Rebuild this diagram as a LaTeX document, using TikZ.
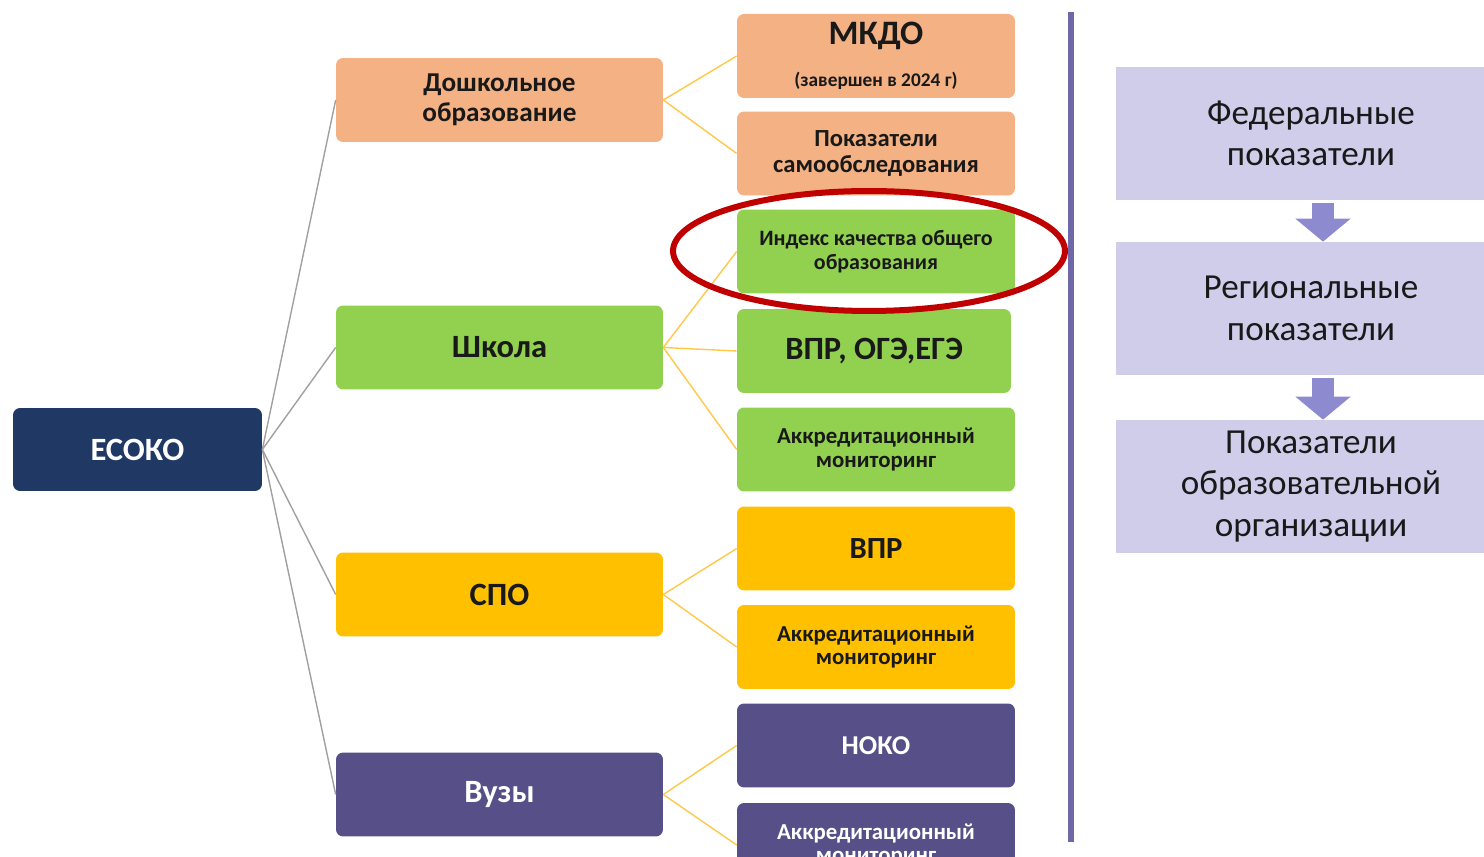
\documentclass[tikz,border=0pt]{standalone}
\usepackage{fontspec}
\setmainfont{Carlito}
\usetikzlibrary{arrows.meta}
\definecolor{esokoblue}{HTML}{203864}
\definecolor{doshkfill}{HTML}{F4B183}
\definecolor{schoolfill}{HTML}{92D050}
\definecolor{spofill}{HTML}{FFC000}
\definecolor{vuzfill}{HTML}{574F87}
\definecolor{levelfill}{HTML}{CFCDEA}
\definecolor{levelarrow}{HTML}{8E8ACF}
\definecolor{splitline}{HTML}{6E68A6}
\definecolor{linkgray}{HTML}{A0A0A0}
\definecolor{linkyellow}{HTML}{FFC84A}
\definecolor{markred}{HTML}{C00000}
\newcommand\fsz[2]{\fontsize{#1}{#2}\selectfont}
\begin{document}
\begin{tikzpicture}[x=0.02cm, y=-0.02cm,
    box/.style={rounded corners=4pt, align=center, inner sep=0pt, text=black!90},
    wide/.style={box, minimum width=6.54cm, minimum height=1.68cm},
    narrow/.style={box, minimum width=5.56cm, minimum height=1.68cm},
    level/.style={fill=levelfill, align=center, inner sep=0pt, minimum width=7.8cm,
        minimum height=2.66cm, font=\fsz{20}{23.5}, text=black!90},
    graylink/.style={linkgray, line width=0.8pt},
    yellowlink/.style={linkyellow, line width=0.8pt},
    levelstep/.style={levelarrow, line width=0.44cm, -{Triangle[width=1.08cm, length=0.46cm]}}]
    \clip (0,0) rectangle (1484,857);
    % root
    \node[box, fill=esokoblue, minimum width=4.98cm, minimum height=1.66cm, text=white,
        font=\bfseries\fsz{18.5}{20}] (esoko) at (137.5,449.5) {ЕСОКО};
    % levels of education
    \node[wide, fill=doshkfill, font=\bfseries\fsz{15.5}{17}] (doshk) at (499.5,100) {Дошкольное\\образование};
    \node[wide, fill=schoolfill, font=\bfseries\fsz{18.5}{20}] (school) at (499.5,347.5) {Школа};
    \node[wide, fill=spofill, font=\bfseries\fsz{18.5}{20}] (spo) at (499.5,594.5) {СПО};
    \node[wide, fill=vuzfill, text=white, font=\bfseries\fsz{18.5}{20}] (vuz) at (499.5,794.5) {Вузы};
    % procedures
    \node[narrow, fill=doshkfill, font=\bfseries\fsz{19.5}{21}] (mkdo) at (876,56)
        {МКДО\\[3pt]{\fsz{11}{12}(завершен в 2024 г)}};
    \node[narrow, fill=doshkfill, font=\bfseries\fsz{14}{15}] (selfcheck) at (876,153.5) {Показатели\\самообследования};
    \node[narrow, fill=schoolfill, font=\bfseries\fsz{12.5}{13.6}] (index) at (876,251.5) {Индекс качества общего\\образования};
    \node[narrow, fill=schoolfill, minimum width=5.48cm, font=\bfseries\fsz{18.5}{20}] (exams) at (874,351) {ВПР, ОГЭ,ЕГЭ};
    \node[narrow, fill=schoolfill, font=\bfseries\fsz{13}{13.6}] (accrschool) at (876,449.5) {Аккредитационный\\мониторинг};
    \node[narrow, fill=spofill, font=\bfseries\fsz{17.5}{19}] (vpr) at (876,548.5) {ВПР};
    \node[narrow, fill=spofill, font=\bfseries\fsz{13}{13.6}] (accrspo) at (876,647) {Аккредитационный\\мониторинг};
    \node[narrow, fill=vuzfill, text=white, font=\bfseries\fsz{15.5}{17}] (noko) at (876,745.5) {НОКО};
    \node[narrow, fill=vuzfill, text=white, font=\bfseries\fsz{13}{13.6}] (accrvuz) at (876,845) {Аккредитационный\\мониторинг};
    % links
    \foreach \lvl in {doshk, school, spo, vuz}
        \draw[graylink] (esoko.east) -- (\lvl.west);
    \foreach \proc in {mkdo, selfcheck}
        \draw[yellowlink] (doshk.east) -- (\proc.west);
    \foreach \proc in {index, exams, accrschool}
        \draw[yellowlink] (school.east) -- (\proc.west);
    \foreach \proc in {vpr, accrspo}
        \draw[yellowlink] (spo.east) -- (\proc.west);
    \foreach \proc in {noko, accrvuz}
        \draw[yellowlink] (vuz.east) -- (\proc.west);
    % mark
    \draw[markred, line width=0.12cm] (869,251) ellipse [x radius=3.92cm, y radius=1.2cm];
    % divider
    \draw[splitline, line width=0.12cm] (1071,12) -- (1071,842);
    % indicator levels
    \node[level] (federal) at (1311,133.5) {Федеральные\\показатели};
    \node[level] (regional) at (1311,308.5) {Региональные\\показатели};
    \node[level] (school-org) at (1311,486.5) {Показатели\\образовательной\\организации};
    \draw[levelstep] ([xshift=0.24cm]federal.south) ++(0,3) -- ([xshift=0.24cm]regional.north);
    \draw[levelstep] ([xshift=0.24cm]regional.south) ++(0,3) -- ([xshift=0.24cm]school-org.north);
\end{tikzpicture}
\end{document}
